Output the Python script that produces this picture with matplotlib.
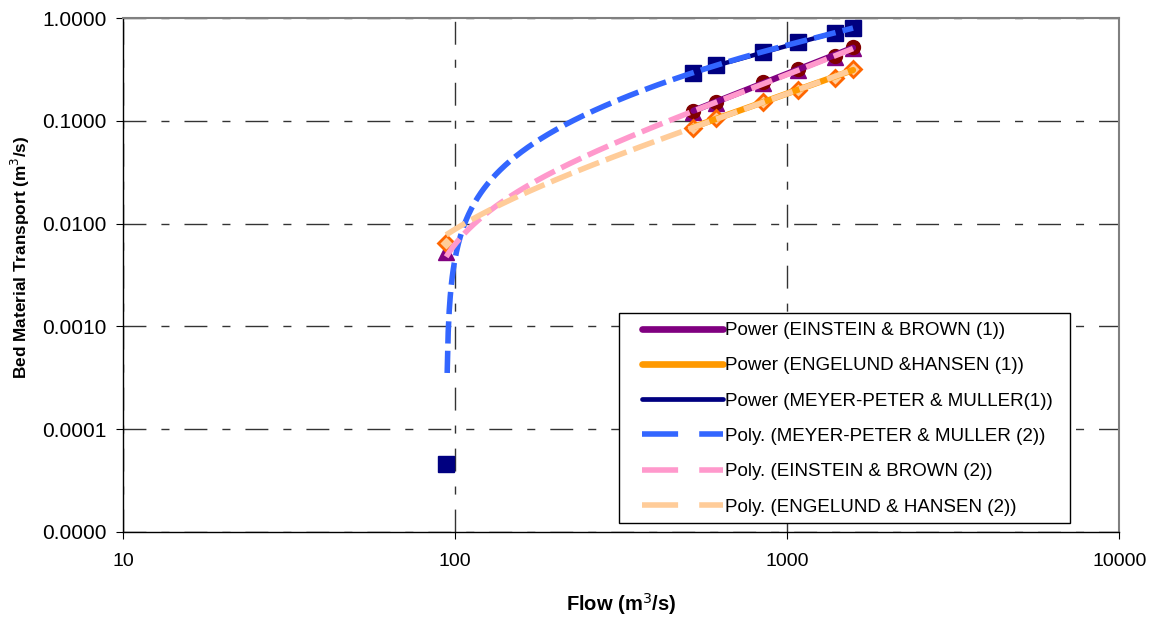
import numpy as np
import matplotlib
matplotlib.use('Agg')
from matplotlib import pyplot as plt
from matplotlib.lines import Line2D
from matplotlib.patches import Rectangle
from matplotlib.ticker import FixedLocator, FuncFormatter, NullLocator

plt.rcParams['font.family'] = ['Liberation Sans', 'DejaVu Sans']

# flows (m3/s)
flow_1 = [522, 612, 847, 1079, 1393, 1579]
flow_2 = [94, 522, 612, 847, 1079, 1393, 1579]

# bed material transport (m3/s)
eb_1 = [0.124, 0.153, 0.238, 0.318, 0.425, 0.52]
eb_2 = [0.0053, 0.122, 0.150, 0.234, 0.313, 0.418, 0.51]
eh_1 = [0.0855, 0.107, 0.153, 0.200, 0.261, 0.320]
eh_2 = [0.0065, 0.0855, 0.107, 0.153, 0.200, 0.261, 0.320]
mpm_1 = [0.292, 0.350, 0.468, 0.585, 0.715, 0.800]
mpm_2 = [0.000046, 0.292, 0.350, 0.468, 0.585, 0.715, 0.800]

fig = plt.figure(figsize=(11.53, 6.17), dpi=100)
ax = fig.add_axes([0.1067, 0.1378, 0.8640, 0.8330])
ax.set_xscale('log')
ax.set_yscale('log', nonpositive='mask')
ax.set_xlim(10, 10000)
ax.set_ylim(1e-5, 1)

# markers
ax.plot(flow_2, mpm_2, 's', color='#000080', ms=11, zorder=3)
ax.plot(flow_2, eb_2, '^', color='#800080', ms=11, zorder=3)
ax.plot(flow_1, eb_1, 'o', color='#800000', ms=10, zorder=3)
ax.plot(flow_2, eh_2, 'D', mfc='#FFCC99', mec='#FF6600', mew=2, ms=8, zorder=3)

# power trendlines (fit on series 1)
xp = np.geomspace(min(flow_1), max(flow_1), 100)
power_styles = [(eb_1, '#800080', 4.5), (eh_1, '#FF9900', 4.5), (mpm_1, '#000080', 3.2)]
for ys, c, lw in power_styles:
    b, a = np.polyfit(np.log(flow_1), np.log(ys), 1)
    ax.plot(xp, np.exp(a) * xp ** b, '-', color=c, lw=lw, solid_capstyle='round', zorder=4)

# polynomial trendlines (fit on series 2)
xq = np.geomspace(min(flow_2), max(flow_2), 400)
poly_styles = [(mpm_2, '#3366FF', 3), (eb_2, '#FF99CC', 2), (eh_2, '#FFCC99', 2)]
for ys, c, order in poly_styles:
    p = np.polyfit(flow_2, ys, order)
    yq = np.polyval(p, xq)
    yq = np.where(yq > 0, yq, np.nan)
    ax.plot(xq, yq, color=c, lw=4, linestyle=(0, (4, 1.3)), zorder=5)

# axes styling
grid_ls = (0, (16.5, 10.8, 5.8, 10.8))
ax.grid(True, which='major', color='#333333', lw=1, linestyle=grid_ls)
ax.xaxis.set_major_locator(FixedLocator([10, 100, 1000, 10000]))
ax.xaxis.set_minor_locator(NullLocator())
ax.yaxis.set_major_locator(FixedLocator([1e-5, 1e-4, 1e-3, 1e-2, 1e-1, 1]))
ax.yaxis.set_minor_locator(NullLocator())
ax.xaxis.set_major_formatter(FuncFormatter(lambda v, pos: '%d' % round(v)))
ax.yaxis.set_major_formatter(FuncFormatter(lambda v, pos: '%.4f' % v))
ax.tick_params(length=5, direction='out', color='black')
ax.tick_params(axis='x', labelsize=14, pad=10)
ax.tick_params(axis='y', labelsize=15, pad=7)
for s in ['top', 'right']:
    ax.spines[s].set_color('#808080')
    ax.spines[s].set_linewidth(1.5)
for s in ['left', 'bottom']:
    ax.spines[s].set_color('black')
    ax.spines[s].set_linewidth(1)

ax.set_xlabel('Flow (m$^3$/s)', fontsize=14.5, fontweight='bold', labelpad=15)
ax.set_ylabel('Bed Material Transport (m$^3$/s)', fontsize=12.4, fontweight='bold')
ax.yaxis.set_label_coords(-0.091, 0.535)

# legend: frame drawn separately, entries placed inside it
fig.patches.append(Rectangle((0.5369, 0.1524), 0.3911, 0.3403, transform=fig.transFigure,
                             facecolor='white', edgecolor='black', lw=1, zorder=9))
labels = ['Power (EINSTEIN & BROWN (1))', 'Power (ENGELUND &HANSEN (1))',
          'Power (MEYER-PETER & MULLER(1))', 'Poly. (MEYER-PETER & MULLER (2))',
          'Poly. (EINSTEIN & BROWN (2))', 'Poly. (ENGELUND & HANSEN (2))']
handles = [Line2D([], [], color='#800080', lw=4.8, solid_capstyle='round'),
           Line2D([], [], color='#FF9900', lw=4.8, solid_capstyle='round'),
           Line2D([], [], color='#000080', lw=3.4, solid_capstyle='round'),
           Line2D([], [], color='#3366FF', lw=4, linestyle=(0, (6.5, 3.8))),
           Line2D([], [], color='#FF99CC', lw=4, linestyle=(0, (6.5, 3.8))),
           Line2D([], [], color='#FFCC99', lw=4, linestyle=(0, (6.5, 3.8)))]
leg = fig.legend(handles, labels, loc='upper left', bbox_to_anchor=(0.5568, 0.4782),
                 bbox_transform=fig.transFigure, fontsize=13.5, frameon=False,
                 handlelength=4.3, handletextpad=0.15, labelspacing=0.97,
                 borderpad=0, borderaxespad=0)
leg.set_zorder(10)

fig.savefig('out.png', dpi=100)
